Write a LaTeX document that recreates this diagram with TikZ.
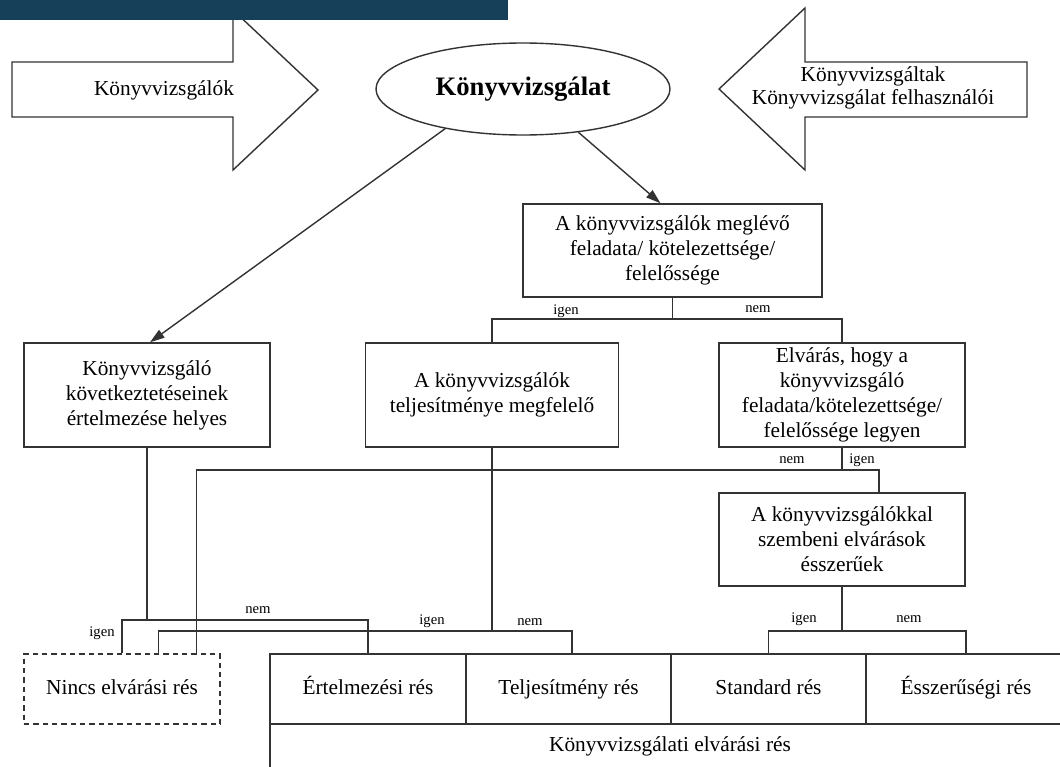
\documentclass[tikz,border=0pt]{standalone}
\usepackage{fontspec}
\setmainfont{Liberation Serif}
\usetikzlibrary{arrows.meta,shapes.geometric,calc}
\definecolor{banner}{HTML}{16405A}
\definecolor{ln}{HTML}{333333}
\begin{document}
\begin{tikzpicture}[x=0.75pt,y=-0.75pt,
  conn/.style={draw=ln,line width=1.05pt},
  arr/.style={conn,-{Triangle[length=11pt,width=7pt]}},
  shapeline/.style={draw=ln,line width=1.05pt,fill=white},
  box/.style={draw=ln,line width=1.05pt,fill=white,inner sep=0pt,align=center,font=\fontsize{16}{18.75}\selectfont},
  cell/.style={box,text height=11.5pt,text depth=3.5pt,minimum height=52.5pt},
  lbl/.style={font=\fontsize{11}{13}\selectfont,inner sep=0pt},
  txt/.style={inner sep=0pt,align=center,font=\fontsize{16}{17.25}\selectfont}]
\useasboundingbox (0,0) rectangle (1060,767);
\fill[white] (0,0) rectangle (1060,767);
% block arrows
\draw[shapeline] (12,62) -- (233,62) -- (233,10) -- (318,90) -- (233,170) -- (233,117) -- (12,117) -- cycle;
\node[txt] (t1) at (164,90) {Könyvvizsgálók};
\draw[shapeline] (1027,62) -- (805,62) -- (805,8) -- (719,89) -- (805,170) -- (805,117) -- (1027,117) -- cycle;
\node[txt] (t2) at (873,88) {Könyvvizsgáltak\\Könyvvizsgálat felhasználói};
% banner
\fill[banner] (0,0) rectangle (508,20);
% ellipse
\node[ellipse,draw=ln,line width=1.05pt,fill=white,minimum width=220.5pt,minimum height=69pt,inner sep=0pt,font=\bfseries\fontsize{20}{24}\selectfont] (ell) at (523,89) {Könyvvizsgálat};
% boxes
\node[box,minimum width=224.25pt,minimum height=69.75pt] (b1) at (672.5,250.5) {A könyvvizsgálók meglévő\\feladata/ kötelezettsége/\\felelőssége};
\node[box,minimum width=184.5pt,minimum height=78pt] (A) at (147,395) {Könyvvizsgáló\\következtetéseinek\\értelmezése helyes};
\node[box,minimum width=189.75pt,minimum height=78pt] (B) at (492,395) {A könyvvizsgálók\\teljesítménye megfelelő};
\node[box,minimum width=184.5pt,minimum height=78pt] (C) at (842,395) {Elvárás, hogy a\\könyvvizsgáló\\feladata/kötelezettsége/\\felelőssége legyen};
\node[box,minimum width=184.5pt,minimum height=69.75pt] (D) at (842,539.5) {A könyvvizsgálókkal\\szembeni elvárások\\ésszerűek};
% bottom row
\draw[conn] (270,800) -- (270,654) -- (1080,654) -- (1080,800);
\node[inner sep=0pt,font=\fontsize{16}{18.75}\selectfont] (gap) at (670,746) {Könyvvizsgálati elvárási rés};
\node[cell,dashed,dash pattern=on 4pt off 3pt,minimum width=147pt] (nincs) at (122,689) {Nincs elvárási rés};
\node[cell,minimum width=147pt] (ert) at (368,689) {Értelmezési rés};
\node[cell,minimum width=153.75pt] (telj) at (568.5,689) {Teljesítmény rés};
\node[cell,minimum width=146.25pt] (std) at (768.5,689) {Standard rés};
\node[cell,minimum width=150pt] (esz) at (966,689) {Ésszerűségi rés};
% connectors from ellipse
\draw[arr] (ell.207) -- ($(A.north)+(3,0)$);
\draw[arr] (ell.322) -- ($(b1.north)+(-12,0)$);
% junctions
\coordinate (j1) at (672.5,319);
\coordinate (jA) at (147,620);
\coordinate (jB) at (492,631);
\coordinate (jC) at (842,470);
\coordinate (jD) at (842,631);
\coordinate (n2) at ($(nincs.north west)+(135,0)$);
\coordinate (n3) at ($(nincs.north west)+(173,0)$);
\coordinate (dn) at ($(D.north)+(37,0)$);
\coordinate (tn) at ($(telj.north)+(3.5,0)$);
% box1
\draw[conn] (b1.south) -- (j1);
\draw[conn] (B.north) |- (j1) -| (C.north);
\node[lbl] (l1) at (566,311) {igen};
\node[lbl] (l2) at (758,309) {nem};
% A
\draw[conn] (A.south) -- (jA);
\draw[conn] (nincs.north) |- (jA) -| (ert.north);
\node[lbl] (l3) at (102,633) {igen};
\node[lbl] (l4) at (258,610) {nem};
% B
\draw[conn] (B.south) -- (jB);
\draw[conn] (n2) |- (jB) -| (tn);
\node[lbl] (l5) at (432,621) {igen};
\node[lbl] (l6) at (530,622) {nem};
% C
\draw[conn] (C.south) -- (jC);
\draw[conn] (n3) |- (jC) -| (dn);
\node[lbl] (l7) at (792,460) {nem};
\node[lbl] (l8) at (862,460) {igen};
% D
\draw[conn] (D.south) -- (jD);
\draw[conn] (std.north) |- (jD) -| (esz.north);
\node[lbl] (l9) at (804,619) {igen};
\node[lbl] (l10) at (909,619) {nem};
\end{tikzpicture}
\end{document}
